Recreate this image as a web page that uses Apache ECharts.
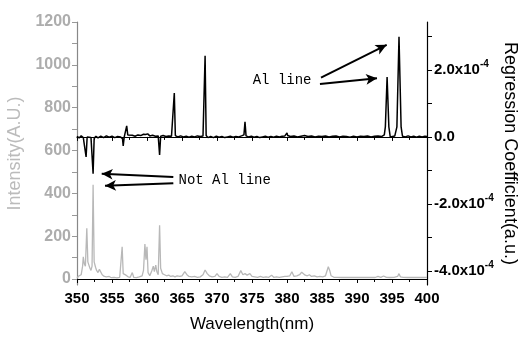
<!DOCTYPE html>
<html>
<head>
<meta charset="utf-8">
<script src="https://cdn.jsdelivr.net/npm/echarts@6/dist/echarts.min.js"></script>
<style>
  html, body { margin: 0; padding: 0; background: #fff; }
  #chart { width: 519px; height: 338px; }
</style>
</head>
<body>
<div id="chart"></div>
<script>
// regression coefficient (units of 1e-4)
const coefWl = [350.0, 350.3, 350.6, 350.9, 351.15, 351.3, 351.45, 351.7, 352.0, 352.15, 352.3, 352.45, 352.7, 353.0, 353.4, 353.8, 354.2, 354.6, 355.0, 355.4, 355.8, 356.2, 356.5, 356.6, 356.75, 356.95, 357.1, 357.25, 357.5, 357.9, 358.3, 358.7, 359.1, 359.5, 359.8, 360.1, 360.4, 360.8, 361.2, 361.6, 361.8, 361.95, 362.3, 362.7, 363.1, 363.5, 363.75, 363.9, 364.05, 364.4, 364.8, 365.2, 365.6, 366.0, 366.4, 366.8, 367.2, 367.6, 368.0, 368.15, 368.3, 368.45, 368.7, 369.1, 369.5, 369.9, 370.3, 370.7, 371.1, 371.5, 371.9, 372.3, 372.7, 373.1, 373.5, 373.85, 374.0, 374.15, 374.5, 374.9, 375.3, 375.7, 376.1, 376.5, 376.9, 377.3, 377.7, 378.1, 378.5, 378.9, 379.3, 379.7, 379.9, 380.0, 380.1, 380.5, 381.0, 381.5, 382.0, 382.5, 383.0, 383.5, 384.0, 384.5, 385.0, 385.5, 386.0, 386.5, 387.0, 387.5, 388.0, 388.5, 389.0, 389.5, 390.0, 390.5, 391.0, 391.5, 392.0, 392.5, 393.0, 393.5, 393.9, 394.05, 394.3, 394.55, 394.75, 395.0, 395.4, 395.7, 396.0, 396.3, 396.5, 396.9, 397.3, 397.7, 398.1, 398.5, 398.9, 399.3, 399.7, 400.0];
const coefVal = [0.02, -0.03, 0.03, -0.02, 0.0, -0.6, 0.0, 0.04, -0.02, 0.0, -1.1, -0.05, 0.02, -0.03, 0.02, -0.02, 0.03, -0.01, 0.02, -0.02, 0.01, 0.0, -0.05, -0.27, 0.0, 0.05, 0.33, 0.06, 0.03, 0.05, 0.02, 0.06, 0.04, 0.08, 0.07, 0.09, 0.03, 0.05, 0.02, 0.03, -0.54, 0.02, 0.04, 0.01, 0.03, 0.02, 0.05, 1.31, 0.04, 0.0, 0.03, 0.0, 0.02, -0.01, 0.02, 0.0, 0.03, 0.01, 0.03, 0.06, 2.42, 0.04, -0.02, 0.01, -0.02, 0.02, -0.01, 0.01, -0.02, 0.0, 0.02, -0.01, 0.01, 0.0, 0.03, 0.06, 0.45, 0.03, 0.0, 0.02, -0.01, 0.01, -0.02, 0.0, 0.02, -0.01, 0.01, -0.01, 0.02, 0.0, 0.02, 0.03, 0.06, 0.12, 0.04, 0.01, 0.03, 0.0, 0.02, 0.04, 0.01, 0.03, 0.0, 0.02, 0.01, 0.03, 0.0, 0.02, 0.03, 0.0, 0.02, 0.01, -0.01, 0.02, 0.0, 0.02, 0.01, 0.03, 0.0, 0.02, 0.03, 0.01, 0.06, 0.3, 1.79, 0.3, 0.0, -0.02, 0.03, 0.3, 2.99, 0.3, 0.02, 0.0, 0.03, 0.0, 0.02, -0.01, 0.02, 0.0, 0.02, 0.01];

// emission intensity
const intWl = [350.0, 350.3, 350.6, 350.8, 350.9, 351.05, 351.2, 351.4, 351.55, 351.7, 351.85, 352.0, 352.15, 352.3, 352.45, 352.65, 352.8, 353.0, 353.2, 353.4, 353.6, 353.9, 354.2, 354.4, 354.6, 354.9, 355.3, 355.7, 356.1, 356.3, 356.45, 356.6, 356.8, 357.0, 357.3, 357.6, 357.9, 358.1, 358.5, 358.9, 359.3, 359.5, 359.7, 359.85, 360.0, 360.15, 360.4, 360.7, 360.9, 361.05, 361.25, 361.4, 361.6, 361.8, 361.95, 362.2, 362.5, 362.8, 363.1, 363.4, 363.7, 364.0, 364.3, 364.7, 365.0, 365.4, 365.7, 366.0, 366.4, 366.8, 367.2, 367.6, 368.0, 368.3, 368.6, 368.9, 369.3, 369.7, 370.0, 370.3, 370.7, 371.1, 371.5, 371.9, 372.2, 372.6, 373.0, 373.4, 373.7, 374.0, 374.3, 374.7, 375.0, 375.4, 375.8, 376.2, 376.6, 377.0, 377.4, 377.8, 378.1, 378.5, 378.9, 379.3, 379.7, 380.0, 380.4, 380.7, 381.0, 381.4, 381.8, 382.1, 382.3, 382.6, 382.9, 383.2, 383.5, 383.9, 384.3, 384.7, 385.1, 385.5, 385.9, 386.1, 386.3, 386.7, 387.2, 387.8, 388.4, 389.0, 389.6, 390.2, 390.8, 391.4, 392.0, 392.6, 393.0, 393.4, 393.8, 394.2, 394.7, 395.3, 395.8, 396.0, 396.2, 396.6, 397.2, 397.8, 398.4, 399.0, 399.6, 400.0];
const intVal = [5, 15, 20, 60, 104, 70, 60, 237, 80, 65, 50, 40, 60, 440, 80, 55, 40, 30, 45, 50, 20, 12, 10, 18, 12, 6, 8, 5, 8, 10, 150, 25, 30, 18, 10, 8, 30, 8, 6, 10, 15, 40, 163, 90, 150, 30, 15, 40, 60, 35, 65, 35, 20, 251, 50, 25, 20, 15, 18, 12, 15, 10, 15, 12, 15, 34, 20, 12, 10, 12, 8, 10, 20, 42, 25, 15, 10, 12, 25, 12, 8, 10, 8, 25, 10, 8, 12, 39, 20, 25, 18, 25, 12, 10, 8, 12, 8, 10, 8, 18, 8, 10, 8, 10, 12, 12, 15, 34, 12, 15, 20, 32, 25, 18, 15, 20, 12, 15, 10, 12, 10, 15, 57, 40, 15, 8, 8, 7, 8, 7, 8, 7, 8, 7, 8, 7, 12, 8, 14, 8, 7, 8, 12, 25, 10, 8, 7, 8, 7, 8, 7, 8];

const leftLabels = [0, 200, 400, 600, 800, 1000, 1200];
const leftTicks = [0, 100, 200, 300, 400, 500, 600, 700, 800, 900, 1000, 1100, 1200];
const rightLabels = [-4, -2, 0, 2];
const rightTicks = [-4, -3, -2, -1, 0, 1, 2, 3];

// annotations, in wavelength / coefficient units
const notes = [
  { text: 'Al line', wl: 379.3, coef: 1.68 },
  { text: 'Not Al line', wl: 371.1, coef: -1.30 }
];
const arrows = [
  [384.86, 1.77, 394.24, 2.75],
  [384.71, 1.58, 392.86, 1.75],
  [363.76, -1.20, 353.53, -1.10],
  [363.76, -1.38, 354.0, -1.46]
];

const FONT = '"Liberation Sans", Arial, sans-serif';
const GREY = '#adadad';

const chart = echarts.init(document.getElementById('chart'));

const zip = (xs, ys) => xs.map((x, i) => [x, ys[i]]);

const option = {
  animation: false,
  backgroundColor: '#fff',
  grid: { left: 77, right: 92, top: 22, bottom: 53, outerBoundsMode: 'none' },
  xAxis: [
    {
      type: 'value', min: 350, max: 400, interval: 5, position: 'bottom',
      axisLine: { lineStyle: { color: '#000', width: 1.2 } },
      axisTick: { length: 4, lineStyle: { color: '#000' } },
      minorTick: { show: true, splitNumber: 2, length: 3, lineStyle: { color: '#000' } },
      axisLabel: { color: '#000', fontWeight: 'bold', fontSize: 15, fontFamily: FONT, margin: 6 },
      splitLine: { show: false },
      name: 'Wavelength(nm)', nameLocation: 'middle', nameGap: 31,
      nameTextStyle: { color: '#000', fontSize: 17, fontFamily: FONT }
    },
    {
      type: 'value', min: 350, max: 400, interval: 5, position: 'top',
      axisLine: { lineStyle: { color: '#000', width: 1.2 } },
      axisTick: { inside: true, length: 4, lineStyle: { color: '#000' } },
      minorTick: { show: true, splitNumber: 2, length: 3, lineStyle: { color: '#000' } },
      axisLabel: { show: false },
      splitLine: { show: false }
    }
  ],
  yAxis: [
    {
      type: 'value', min: -28, max: 1200, position: 'left',
      axisLine: { show: true, lineStyle: { color: '#888', width: 1.2 } },
      axisTick: { show: true, length: 5, customValues: leftTicks, lineStyle: { color: '#999' } },
      axisLabel: {
        customValues: leftLabels, color: GREY, fontWeight: 'bold', fontSize: 16, fontFamily: FONT, margin: 6,
        formatter: (v) => String(v)
      },
      splitLine: { show: false },
      name: 'Intensity(A.U.)', nameLocation: 'middle', nameGap: 45,
      nameTextStyle: { color: '#bbbbbb', fontSize: 18, fontFamily: FONT }
    },
    {
      type: 'value', min: -4.42, max: 3.43, position: 'right',
      axisLine: { show: true, lineStyle: { color: '#000', width: 1.2 } },
      axisTick: { show: true, length: 5, customValues: rightTicks, lineStyle: { color: '#000' } },
      axisLabel: {
        customValues: rightLabels, margin: 7,
        formatter: (v) => v === 0 ? '{b|0.0}' : '{b|' + v.toFixed(1) + 'x10}{s|-4}',
        rich: {
          b: { color: '#000', fontWeight: 'bold', fontSize: 15, fontFamily: FONT },
          s: { color: '#000', fontWeight: 'bold', fontSize: 10, fontFamily: FONT, padding: [0, 0, 12, 0] }
        }
      },
      splitLine: { show: false },
      name: 'Regression Coefficient(a.u.)', nameLocation: 'middle', nameGap: 74, nameRotate: -90,
      nameMoveOverlap: false,
      nameTextStyle: { color: '#000', fontSize: 18, fontFamily: FONT }
    }
  ],
  series: [
    {
      name: 'Intensity', type: 'line', xAxisIndex: 0, yAxisIndex: 0,
      data: zip(intWl, intVal), showSymbol: false,
      lineStyle: { color: '#b8b8b8', width: 1.3 }
    },
    {
      name: 'Regression', type: 'line', xAxisIndex: 0, yAxisIndex: 1,
      data: zip(coefWl, coefVal), showSymbol: false,
      lineStyle: { color: '#000', width: 1.5 },
      markLine: {
        silent: true, symbol: ['none', 'arrow'], symbolSize: [8, 11],
        lineStyle: { color: '#000', width: 2, type: 'solid' },
        label: { show: false },
        data: arrows.map((a) => [{ coord: [a[0], a[1]] }, { coord: [a[2], a[3]] }])
      },
      markPoint: {
        silent: true, symbol: 'rect', symbolSize: 1,
        itemStyle: { color: 'rgba(0,0,0,0)' },
        label: {
          show: true, position: 'inside', color: '#000', fontSize: 14,
          fontFamily: '"Liberation Mono", "DejaVu Sans Mono", monospace',
          formatter: (p) => p.name
        },
        data: notes.map((n) => ({ name: n.text, coord: [n.wl, n.coef] }))
      }
    }
  ]
};

chart.setOption(option);
</script>
</body>
</html>
